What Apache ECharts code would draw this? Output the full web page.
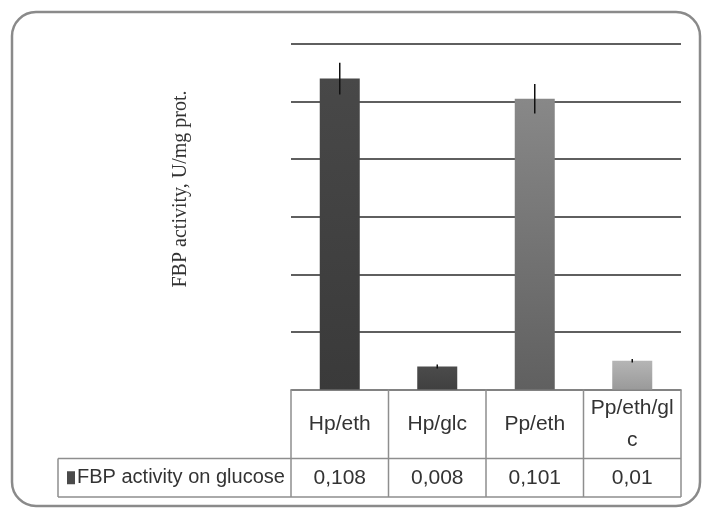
<!DOCTYPE html>
<html>
<head>
<meta charset="utf-8">
<script src="https://cdn.jsdelivr.net/npm/echarts@6/dist/echarts.min.js"></script>
<style>
  html, body { margin: 0; padding: 0; background: #ffffff; }
  #chart { width: 704px; height: 508px; }
</style>
</head>
<body>
<div id="chart"></div>
<script>
// Fructose-1,6-bisphosphatase activity per strain / growth condition
const categories = ['Hp/eth', 'Hp/glc', 'Pp/eth', 'Pp/eth/glc'];
const values = [0.108, 0.008, 0.101, 0.01];
const errors = [0.0055, 0.0007, 0.0051, 0.0006];
const seriesName = 'FBP activity on glucose';
const axisTitle = 'FBP activity, U/mg prot.';
const yMin = 0, yMax = 0.12, yStep = 0.02;

// per-bar gradient fills (top, bottom)
const barFills = [
  ['#484848', '#3a3a3a'],
  ['#4b4b4b', '#404040'],
  ['#888888', '#606060'],
  ['#b5b5b5', '#9a9a9a']
];

const TEXT = '#333333';
const TABLE_LINE = '#8e8e8e';
const FONT = "'Liberation Sans', Arial, sans-serif";

const chart = echarts.init(document.getElementById('chart'), null, { renderer: 'canvas' });

const fmt = v => String(v).replace('.', ',');

chart.setOption({
  animation: false,
  backgroundColor: '#ffffff',
  grid: { left: 291, right: 23, top: 44, bottom: 118.5, containLabel: false },
  xAxis: {
    type: 'category',
    data: categories,
    axisLine: { show: true, lineStyle: { color: TABLE_LINE, width: 1.5 } },
    axisTick: { show: false },
    axisLabel: { show: false },
    splitLine: { show: false }
  },
  yAxis: {
    type: 'value',
    min: yMin, max: yMax, interval: yStep,
    axisLine: { show: false },
    axisTick: { show: false },
    axisLabel: { show: false },
    splitLine: { show: true, lineStyle: { color: '#2a2a2a', width: 1.5 } }
  },
  series: [
    {
      name: seriesName,
      type: 'bar',
      barWidth: 40,
      data: values.map((v, i) => ({
        value: v,
        itemStyle: {
          color: new echarts.graphic.LinearGradient(0, 0, 0, 1, [
            { offset: 0, color: barFills[i][0] },
            { offset: 1, color: barFills[i][1] }
          ]),
          shadowBlur: 6,
          shadowColor: 'rgba(0,0,0,0.28)',
          shadowOffsetX: 2,
          shadowOffsetY: 1
        }
      }))
    },
    {
      name: 'error',
      type: 'custom',
      z: 10,
      data: values.map((v, i) => [i, v - errors[i], v + errors[i]]),
      renderItem: (params, api) => {
        const lo = api.coord([api.value(0), api.value(1)]);
        const hi = api.coord([api.value(0), api.value(2)]);
        return {
          type: 'line',
          shape: { x1: lo[0], y1: lo[1], x2: hi[0], y2: hi[1] },
          style: { stroke: '#111111', lineWidth: 1.5 }
        };
      }
    }
  ]
});

// Data table under the plot, aligned to the category axis
function buildTable() {
  const y0 = chart.convertToPixel({ yAxisIndex: 0 }, yMin);
  const xs = categories.map(c => chart.convertToPixel({ xAxisIndex: 0 }, c));
  const band = xs[1] - xs[0];
  const left = xs[0] - band / 2;
  const right = xs[xs.length - 1] + band / 2;
  const headerH = 69;
  const rowH = 38.5;
  const yRow = y0 + headerH;
  const yBottom = yRow + rowH;
  const legendLeft = 58;

  const line = (x1, y1, x2, y2) => ({
    type: 'line',
    shape: { x1, y1, x2, y2 },
    style: { stroke: TABLE_LINE, lineWidth: 1.5 },
    silent: true
  });

  const els = [];
  // outer chart frame
  els.push({
    type: 'rect',
    shape: { x: 12, y: 12, width: 688, height: 494, r: 24 },
    style: { fill: null, stroke: '#8a8a8a', lineWidth: 2.5 },
    silent: true,
    z: -1
  });

  // vertical column separators
  for (let i = 0; i <= categories.length; i++) {
    const x = left + i * band;
    els.push(line(x, y0, x, yBottom));
  }
  els.push(line(legendLeft, yRow, legendLeft, yBottom));
  els.push(line(legendLeft, yRow, right, yRow));
  els.push(line(legendLeft, yBottom, right, yBottom));

  // header cells: category names
  categories.forEach((c, i) => {
    els.push({
      type: 'text',
      x: xs[i],
      y: y0 + headerH / 2,
      style: {
        text: c,
        x: 0, y: 0,
        width: band - 9,
        overflow: 'breakAll',
        lineHeight: 32,
        align: 'center',
        verticalAlign: 'middle',
        font: '21px ' + FONT,
        fill: TEXT
      },
      silent: true
    });
    // value cells
    els.push({
      type: 'text',
      x: xs[i],
      y: yRow + rowH / 2,
      style: {
        text: fmt(values[i]),
        align: 'center',
        verticalAlign: 'middle',
        font: '21px ' + FONT,
        fill: TEXT
      },
      silent: true
    });
  });

  // legend key in the row header
  els.push({
    type: 'rect',
    shape: { x: legendLeft + 9, y: yRow + rowH / 2 - 6.5, width: 8, height: 13 },
    style: { fill: '#4a4a4a' },
    silent: true
  });
  els.push({
    type: 'text',
    x: legendLeft + 19,
    y: yRow + rowH / 2,
    style: {
      text: seriesName,
      align: 'left',
      verticalAlign: 'middle',
      font: '20px ' + FONT,
      fill: TEXT
    },
    silent: true
  });

  // vertical axis title
  els.push({
    type: 'text',
    x: 181,
    y: 189,
    rotation: Math.PI / 2,
    style: {
      text: axisTitle,
      align: 'center',
      verticalAlign: 'middle',
      font: "20px 'Liberation Serif', 'Times New Roman', serif",
      fill: '#333333'
    },
    silent: true
  });

  chart.setOption({ graphic: { elements: els } });
}

buildTable();
</script>
</body>
</html>
